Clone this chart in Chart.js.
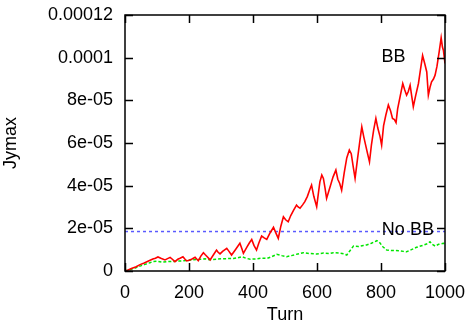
<!DOCTYPE html>
<html>
<head>
<meta charset="utf-8">
<script src="https://cdn.jsdelivr.net/npm/chart.js@4"></script>
<style>
  html, body { margin: 0; padding: 0; background: #fff; }
  #wrap { width: 466px; height: 326px; }
</style>
</head>
<body>
<div id="wrap"><canvas id="c" width="466" height="326"></canvas></div>
<script>
// values are in units of 1e-5 (Jymax)
var unit = 1e-5;

var bbTurn = [0, 10, 20, 35, 47, 60, 75, 87, 95, 103, 112, 125, 133, 141, 148, 156, 165, 172, 181, 187,
  193, 200, 208, 219, 224, 229, 237, 245, 251, 257, 266, 276, 286, 291, 297, 305, 318, 325, 333, 345,
  352, 359, 365, 370, 380, 388, 396, 403, 411, 418, 427, 435, 443, 452, 458, 464, 471, 479, 487, 495,
  502, 510, 518, 527, 536, 541, 547, 555, 562, 570, 577, 583, 590, 599, 604, 609, 615, 620, 625, 630,
  636, 641, 650, 659, 665, 671, 677, 685, 693, 701, 707, 713, 719, 727, 734, 740, 746, 752, 758, 764,
  770, 777, 784, 790, 797, 802, 808, 815, 823, 830, 836, 842, 847, 852, 860, 868, 874, 880, 885, 891,
  896, 901, 908, 917, 923, 930, 937, 943, 948, 953, 958, 964, 969, 975, 982, 988, 992, 995, 1000];
var bbVal = [0, 0.05, 0.12, 0.2, 0.3, 0.38, 0.48, 0.56, 0.6, 0.66, 0.6, 0.52, 0.58, 0.64, 0.55, 0.44, 0.55, 0.6, 0.67, 0.56,
  0.47, 0.5, 0.55, 0.64, 0.56, 0.48, 0.7, 0.86, 0.76, 0.67, 0.52, 0.75, 0.98, 0.88, 0.8, 0.92, 1.06, 0.92, 0.75, 1.0,
  1.15, 1.3, 1.05, 0.83, 1.1, 1.3, 1.48, 1.2, 0.98, 1.3, 1.64, 1.55, 1.48, 1.75, 1.9, 2.05, 1.8, 1.53, 2.1, 2.54,
  2.4, 2.31, 2.6, 2.85, 3.09, 3.0, 2.94, 3.1, 3.25, 3.5, 3.8, 4.03, 3.5, 3.01, 3.6, 4.18, 4.5, 4.34, 3.9, 3.4,
  3.7, 3.95, 4.4, 4.73, 4.3, 4.1, 3.79, 4.6, 5.3, 5.67, 5.5, 4.9, 4.34, 5.3, 6.1, 6.76, 6.3, 5.9, 5.5, 5.12,
  5.9, 6.6, 7.15, 6.7, 6.3, 5.9, 6.8, 7.3, 7.78, 7.5, 7.15, 7.1, 6.96, 7.6, 8.2, 8.79, 8.5, 8.24, 8.4, 8.71,
  8.2, 7.7, 8.2, 8.79, 9.4, 10.1, 9.7, 9.33, 8.24, 8.6, 8.87, 9.0, 9.18, 9.6, 10.3, 10.93, 10.5, 10.35, 9.73];

var nobbTurn = [0, 15, 30, 47, 60, 78, 88, 100, 115, 130, 141, 160, 182, 200, 215, 234, 250, 265, 286, 300,
  320, 339, 352, 365, 378, 391, 410, 425, 443, 458, 474, 490, 505, 520, 540, 557, 575, 599, 620, 640,
  651, 670, 685, 693, 703, 714, 730, 745, 755, 770, 787, 795, 805, 818, 835, 859, 870, 880, 895, 911,
  930, 945, 953, 960, 969, 980, 995, 1000];
var nobbVal = [0, 0.05, 0.13, 0.23, 0.3, 0.39, 0.44, 0.46, 0.42, 0.44, 0.44, 0.46, 0.48, 0.5, 0.53, 0.55, 0.57, 0.53, 0.55, 0.57,
  0.58, 0.59, 0.62, 0.67, 0.6, 0.55, 0.57, 0.6, 0.59, 0.67, 0.78, 0.72, 0.67, 0.72, 0.8, 0.86, 0.82, 0.8, 0.84, 0.82,
  0.86, 0.84, 0.8, 0.75, 0.95, 1.17, 1.15, 1.2, 1.22, 1.3, 1.42, 1.35, 1.15, 0.98, 0.96, 0.95, 0.92, 0.9, 1.0, 1.11,
  1.2, 1.28, 1.37, 1.25, 1.17, 1.25, 1.3, 1.28];

var refTurn = [0, 1000];
var refVal = [1.85, 1.85];

var xTicks = [0, 200, 400, 600, 800, 1000];
var yTickLabels = ['0', '2e-05', '4e-05', '6e-05', '8e-05', '0.0001', '0.00012'];

var seriesLabels = [
  { text: 'BB', turn: 839, val: 10.02 },
  { text: 'No BB', turn: 884, val: 1.92 }
];

function pairs(xs, ys) {
  return xs.map(function(x, i) { return { x: x, y: ys[i] * unit }; });
}

var font = '"Liberation Sans", Arial, Helvetica, sans-serif';

// gnuplot-style frame with inward ticks on all four sides, plus text labels
var framePlugin = {
  id: 'frame',
  afterDatasetsDraw: function(chart) {
    var ctx = chart.ctx, a = chart.chartArea;
    var xs = chart.scales.x, ys = chart.scales.y;
    var tl = 8;
    ctx.save();
    ctx.strokeStyle = '#000';
    ctx.lineWidth = 1.5;
    ctx.beginPath();
    xTicks.forEach(function(t) {
      var px = Math.round(xs.getPixelForValue(t)) + 0.5;
      ctx.moveTo(px, a.bottom); ctx.lineTo(px, a.bottom - tl);
      ctx.moveTo(px, a.top); ctx.lineTo(px, a.top + tl);
    });
    yTickLabels.forEach(function(_, i) {
      var py = Math.round(ys.getPixelForValue(i * 2 * unit)) + 0.5;
      ctx.moveTo(a.left, py); ctx.lineTo(a.left + tl, py);
      ctx.moveTo(a.right, py); ctx.lineTo(a.right - tl, py);
    });
    ctx.stroke();
    ctx.strokeRect(a.left, a.top, a.right - a.left, a.bottom - a.top);

    ctx.fillStyle = '#000';
    ctx.font = '18px ' + font;
    ctx.textAlign = 'center';
    ctx.textBaseline = 'middle';
    seriesLabels.forEach(function(l) {
      ctx.fillText(l.text, xs.getPixelForValue(l.turn), ys.getPixelForValue(l.val * unit));
    });
    ctx.restore();
  }
};

new Chart(document.getElementById('c'), {
  type: 'line',
  data: {
    datasets: [
      {
        label: 'BB',
        data: pairs(bbTurn, bbVal),
        borderColor: '#ff0000',
        borderWidth: 1.6,
        pointRadius: 0,
        tension: 0
      },
      {
        label: 'No BB',
        data: pairs(nobbTurn, nobbVal),
        borderColor: '#00e600',
        borderWidth: 1.5,
        borderDash: [3, 2],
        pointRadius: 0,
        tension: 0
      },
      {
        label: 'ref',
        data: pairs(refTurn, refVal),
        borderColor: '#5a5aff',
        borderWidth: 1.5,
        borderDash: [3, 3],
        pointRadius: 0
      }
    ]
  },
  options: {
    responsive: false,
    animation: false,
    layout: { padding: { top: 15, right: 21, left: 0, bottom: 0 } },
    plugins: { legend: { display: false }, tooltip: { enabled: false } },
    scales: {
      x: {
        type: 'linear',
        min: 0,
        max: 1000,
        grid: { display: false, drawTicks: false },
        border: { display: false },
        ticks: {
          stepSize: 200,
          padding: 11,
          color: '#000',
          font: { family: font, size: 18 },
          maxRotation: 0,
          callback: function(v) { return String(v); }
        },
        title: {
          display: true,
          text: 'Turn',
          color: '#000',
          font: { family: font, size: 18 },
          padding: { top: 8, bottom: 0 }
        },
        afterFit: function(s) { s.height = 55; s.paddingLeft = 0; s.paddingRight = 0; }
      },
      y: {
        min: 0,
        max: 0.00012,
        grid: { display: false, drawTicks: false },
        border: { display: false },
        ticks: {
          stepSize: 0.00002,
          padding: 12,
          color: '#000',
          font: { family: font, size: 18 },
          callback: function(v, i) { return yTickLabels[i]; }
        },
        title: {
          display: true,
          text: 'Jymax',
          color: '#000',
          font: { family: font, size: 18 },
          padding: { top: 0, bottom: 4 }
        },
        afterFit: function(s) { s.width = 125; s.paddingTop = 0; s.paddingBottom = 0; }
      }
    }
  },
  plugins: [framePlugin]
});
</script>
</body>
</html>
